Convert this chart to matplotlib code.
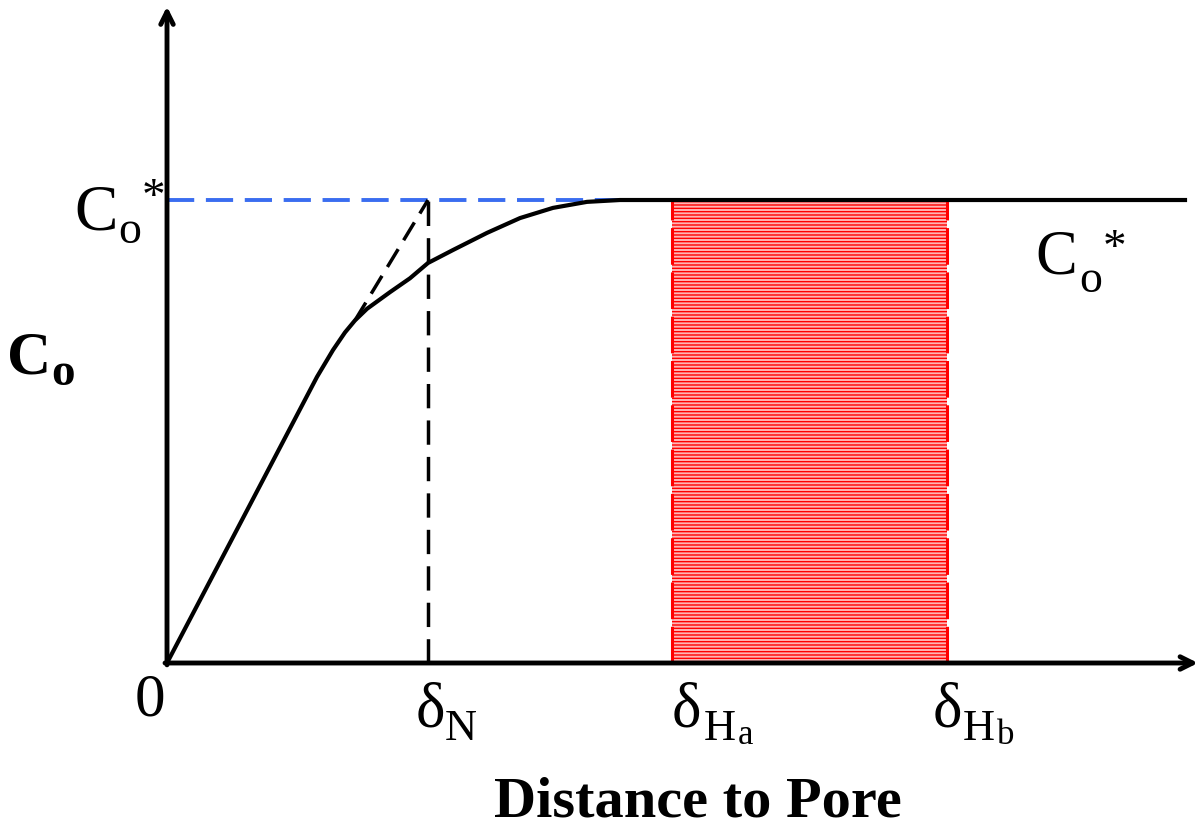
import matplotlib
matplotlib.use("Agg")
import matplotlib.pyplot as plt

plt.rcParams["font.family"] = ["Liberation Serif", "DejaVu Serif"]
plt.rcParams["hatch.linewidth"] = 1.0

# concentration profile (distance in arbitrary units, C normalised to C*)
dist = [0.0, 1.50, 1.66, 1.78, 1.88, 2.00, 2.23, 2.43, 2.61, 2.86, 3.20,
        3.53, 3.86, 4.20, 4.53, 4.93, 10.18]
conc = [0.0, 0.618, 0.676, 0.714, 0.740, 0.765, 0.801, 0.831, 0.864, 0.892,
        0.929, 0.961, 0.983, 0.996, 1.0, 1.0, 1.0]

c_star = 1.0
delta_n = 2.61
delta_ha = 5.05
delta_hb = 7.80
tangent_x = [1.88, delta_n]
tangent_y = [0.740, c_star]
blue_end = 4.55
x_max = 10.31
y_max = 1.418

W, H = 1203, 830
fig = plt.figure(figsize=(W / 100, H / 100), dpi=100)
ax = fig.add_axes([0, 0, 1, 1])
ax.set_xlim(-1.67, 10.36)
ax.set_ylim(-0.3607, 1.432)
ax.axis("off")

# shaded region
ax.fill_between([delta_ha, delta_hb], 0, c_star, facecolor="#ffb4b4",
                edgecolor="red", hatch="-----", linewidth=0, zorder=1)
for xv in (delta_ha, delta_hb):
    ax.plot([xv, xv], [0, c_star], color="red", lw=2.2,
            dashes=(12, 2.5), zorder=2)

# blue C* reference line
ax.plot([0, blue_end], [c_star, c_star], color="#3a6df0", lw=2.8,
        dashes=(7, 3), zorder=2)

# tangent and delta_N markers
ax.plot(tangent_x, tangent_y, color="black", lw=2.5, dashes=(6, 3), zorder=3)
ax.plot([delta_n, delta_n], [0, c_star], color="black", lw=2.5,
        dashes=(7, 3.5), zorder=3)

# profile
ax.plot(dist, conc, color="black", lw=3.0, solid_joinstyle="round", zorder=4)

# axes with arrows
arrow = dict(arrowstyle="->,head_length=0.9,head_width=0.45", lw=3.5,
             color="black", shrinkA=0, shrinkB=0)
ax.annotate("", xy=(0, y_max), xytext=(0, -0.004), arrowprops=arrow, zorder=5)
ax.annotate("", xy=(x_max, 0), xytext=(-0.02, 0), arrowprops=arrow, zorder=5)


def put(px, py, s, size, ha="left", va="baseline", weight="normal"):
    fig.text(px / W, 1 - py / H, s, fontsize=size, ha=ha, va=va,
             fontweight=weight)


# C* label at the y axis
put(118, 230, "C", 47, ha="right")
put(118, 243, "o", 33)
put(142, 178, "*", 34, va="top")
# C* label on the plateau
put(1077, 273, "C", 45, ha="right")
put(1079, 292, "o", 33)
put(1103, 228, "*", 34, va="top")
# y-axis label
put(51, 373, "C", 44, ha="right", weight="bold")
put(51, 385, "o", 34, weight="bold")
# x ticks
put(150, 715, "0", 44, ha="center")
put(430, 726, "δ", 45, ha="center")
put(445, 740, "N", 32)
put(686, 726, "δ", 45, ha="center")
put(704, 740, "H", 32)
put(738, 744, "a", 25)
put(947, 726, "δ", 45, ha="center")
put(963, 740, "H", 32)
put(997, 744, "b", 25)
# x-axis label
put(698, 816, "Distance to Pore", 42, ha="center", weight="bold")

fig.savefig("out.png", dpi=100)
